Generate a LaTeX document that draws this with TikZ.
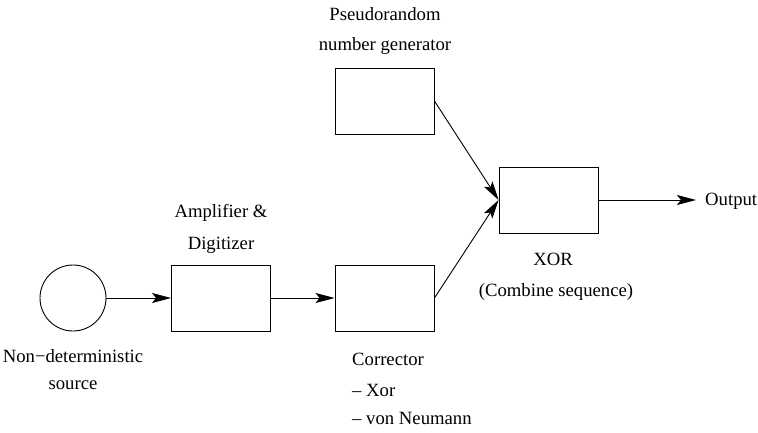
\documentclass[tikz,border=0pt]{standalone}
\usepackage{fontspec}
\setmainfont{Liberation Serif}
\usetikzlibrary{arrows.meta}
\begin{document}
\begin{tikzpicture}[x=1pt,y=-1pt,
  box/.style={draw,line width=0.9pt,minimum width=99pt,minimum height=66pt,inner sep=0pt},
  src/.style={draw,circle,line width=0.9pt,minimum size=66pt,inner sep=0pt},
  lbl/.style={inner sep=0pt,font=\fontsize{18.7}{22}\selectfont},
  conn/.style={line width=0.9pt,-{Stealth[length=19pt,width=10pt,inset=4pt]}}]
\useasboundingbox (0,0) rectangle (758,433);
\node[src] (srcn) at (73,298) {};
\node[box] (amp) at (221,298) {};
\node[box] (cor) at (384.5,298) {};
\node[box] (prng) at (384.5,101) {};
\node[box] (xor) at (548.5,200) {};
\node[lbl,anchor=west] (out) at (705,201) {Output};
\coordinate (outend) at (696,200);

\node[lbl] (t1) at (385,14) {Pseudorandom};
\node[lbl] (t2) at (385,46) {number generator};
\node[lbl] (t3) at (221,213) {Amplifier \&};
\node[lbl] (t4) at (221,245) {Digitizer};
\node[lbl] (t5) at (553,259) {XOR};
\node[lbl] (t6) at (556,292) {(Combine sequence)};
\node[lbl] (t7) at (73,356) {Non−deterministic};
\node[lbl] (t8) at (73,385) {source};
\node[lbl,anchor=west] (t9) at (352,359) {Corrector};
\node[lbl,anchor=west] (t10) at (352,390) {– Xor};
\node[lbl,anchor=west] (t11) at (352,418) {– von Neumann};

\draw[conn] (srcn.east) -- (amp.west);
\draw[conn] (amp.east) -- (cor.west);
\draw[conn] (prng.east) -- (xor.west);
\draw[conn] (cor.east) -- (xor.west);
\draw[conn] (xor.east) -- (outend);
\end{tikzpicture}
\end{document}
